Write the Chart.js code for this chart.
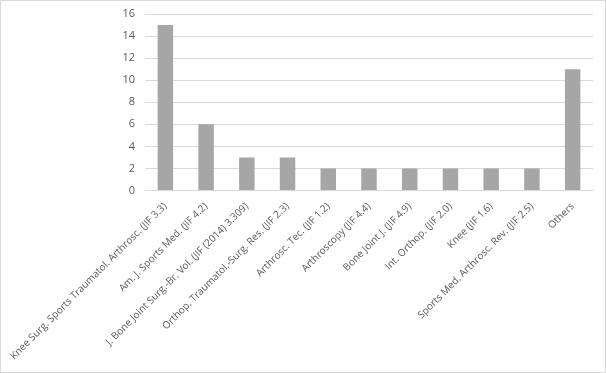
<!DOCTYPE html>
<html>
<head>
<meta charset="utf-8">
<script src="https://cdn.jsdelivr.net/npm/chart.js@4/dist/chart.umd.min.js"></script>
<style>
html,body{margin:0;padding:0;background:#fff;}
#wrap{position:absolute;left:0;top:0;width:604px;height:371px;border:1px solid #d9d9d9;}
canvas{display:block;}
</style>
</head>
<body>
<div id="wrap"><canvas id="c" width="604" height="371"></canvas></div>
<script>
const categories = [
  "Knee Surg. Sports Traumatol. Arthrosc. (JIF 3.3)",
  "Am. J. Sports Med. (JIF 4.2)",
  "J. Bone Joint Surg.-Br. Vol. (JIF (2014) 3.309)",
  "Orthop. Traumatol.-Surg. Res. (JIF 2.3)",
  "Arthrosc. Tec. (JIF 1.2)",
  "Arthroscopy (JIF 4.4)",
  "Bone Joint J. (JIF 4.9)",
  "Int. Orthop. (JIF 2.0)",
  "Knee (JIF 1.6)",
  "Sports Med. Arthrosc. Rev. (JIF 2.5)",
  "Others"
];
const counts = [15, 6, 3, 3, 2, 2, 2, 2, 2, 2, 11];
const yTicks = [0, 2, 4, 6, 8, 10, 12, 14, 16];

new Chart(document.getElementById('c'), {
  type: 'bar',
  data: {
    labels: categories,
    datasets: [{
      data: counts,
      backgroundColor: '#a6a6a6',
      borderWidth: 0,
      categoryPercentage: 1.0,
      barPercentage: 0.38
    }]
  },
  options: {
    responsive: false,
    animation: false,
    plugins: { legend: { display: false }, tooltip: { enabled: false } },
    layout: { padding: { top: 13, right: 12, bottom: 5, left: 0 } },
    scales: {
      x: {
        grid: { display: false, drawTicks: false },
        border: { color: '#d9d9d9', width: 1 },
        afterFit: (s) => { s.paddingLeft = 0; },
        ticks: {
          autoSkip: false,
          maxRotation: 45,
          minRotation: 45,
          color: '#595959',
          font: { family: 'Open Sans', size: 10 },
          padding: 10
        }
      },
      y: {
        min: 0,
        max: 16,
        afterBuildTicks: (axis) => { axis.ticks = yTicks.map(v => ({ value: v })); },
        afterFit: (axis) => { axis.width = 144; axis.paddingTop = 0; axis.paddingBottom = 0; },
        grid: { color: '#d9d9d9', drawTicks: false },
        border: { display: false },
        ticks: {
          color: '#595959',
          font: { family: 'Open Sans', size: 11 },
          padding: 10
        }
      }
    }
  }
});
</script>
</body>
</html>
